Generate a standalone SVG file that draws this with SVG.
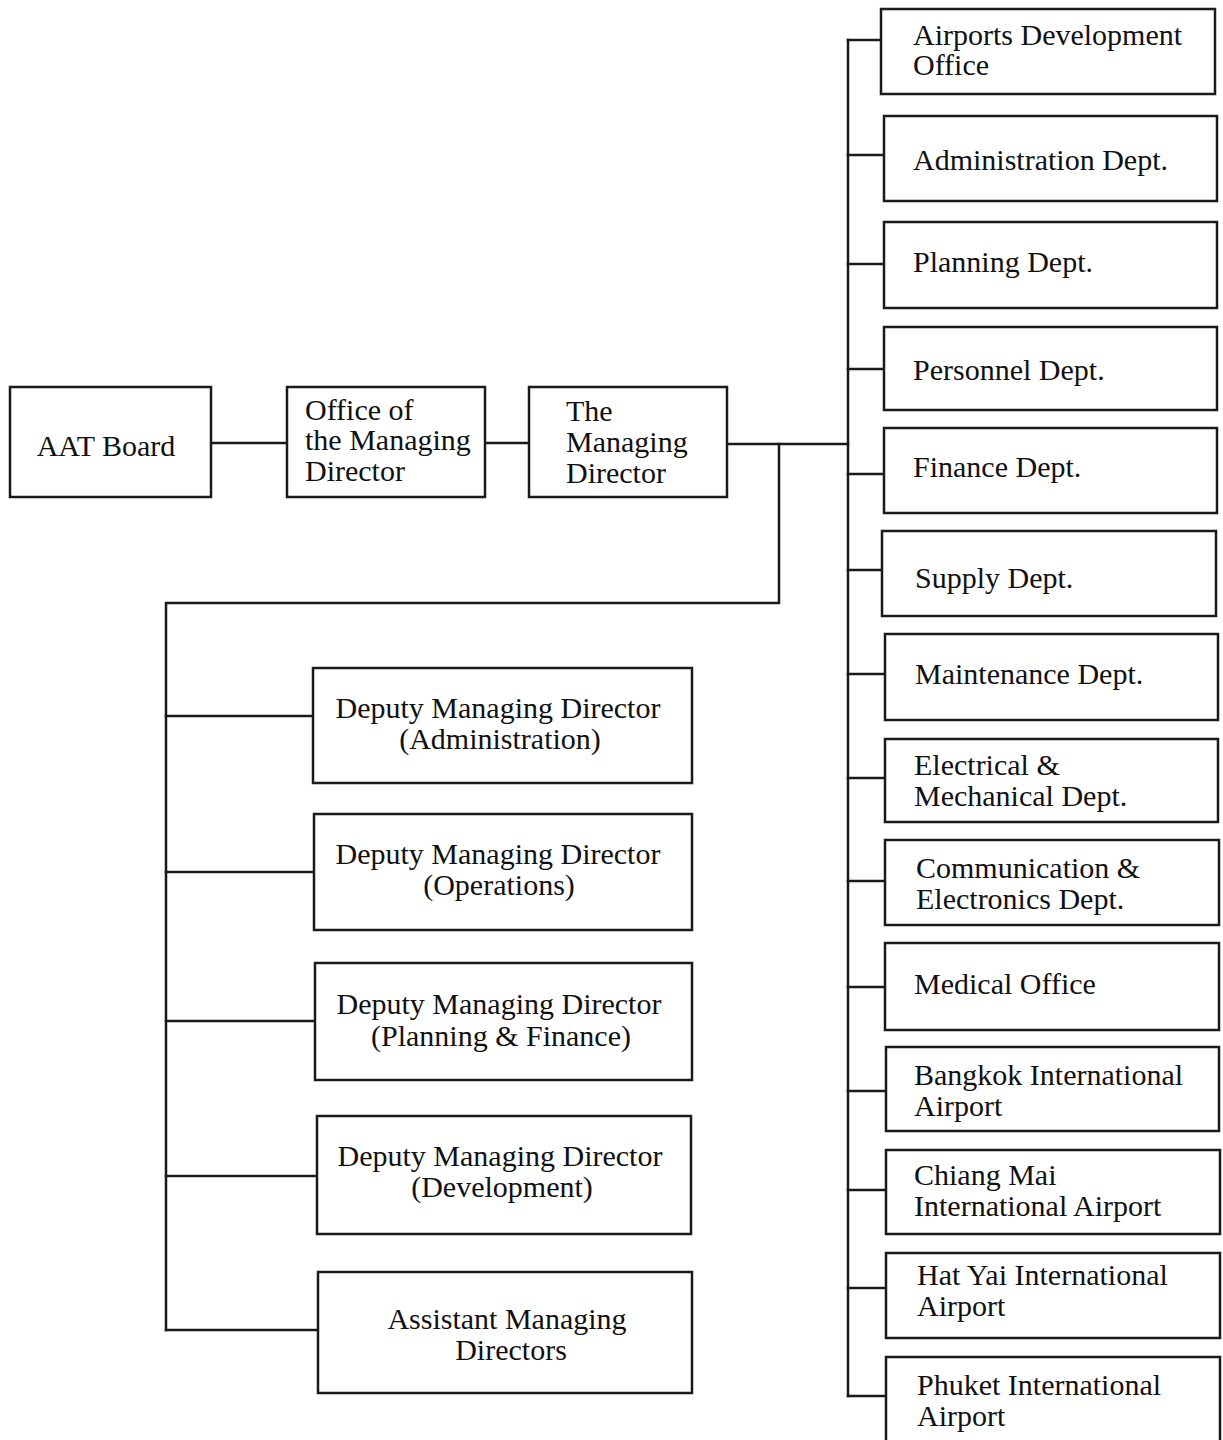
<svg xmlns="http://www.w3.org/2000/svg" width="1223" height="1440" viewBox="0 0 1223 1440">
<style>
.box{fill:#fff;stroke:#1a1a1a;stroke-width:2.5}
.ln{fill:none;stroke:#1a1a1a;stroke-width:2.5;stroke-linecap:square}
text{font-family:"Liberation Serif","Times New Roman",serif;font-size:30px;fill:#111}
.c{text-anchor:middle}
</style>
<rect width="1223" height="1440" fill="#fff"/>
<g id="connectors">
<path class="ln" d="M211 443H287M485 443H529M727 444H848"/>
<path class="ln" d="M779 444V603H166V1330"/>
<path class="ln" d="M166 716H313M166 872H314M166 1021H315M166 1176H317M166 1330H318"/>
<path class="ln" d="M848 40V1396"/>
<path class="ln" d="M848 40H881M848 155H884M848 264H884M848 369H884M848 474H884M848 570H882M848 674H885M848 778H885M848 881H885M848 987H885M848 1091H886M848 1190H886M848 1288H886M848 1396H886"/>
</g>
<g id="aat-board"><rect class="box" x="10" y="387" width="201" height="110"/><text class="c" x="106" y="456">AAT Board</text></g>
<g id="office-md"><rect class="box" x="287" y="387" width="198" height="110"/><text x="305" y="420">Office of</text><text x="305" y="450">the Managing</text><text x="305" y="481">Director</text></g>
<g id="md"><rect class="box" x="529" y="387" width="198" height="110"/><text x="566" y="421">The</text><text x="566" y="452">Managing</text><text x="566" y="483">Director</text></g>

<g id="dmd-admin"><rect class="box" x="313" y="668" width="379" height="115"/><text class="c" x="498" y="718">Deputy Managing Director</text><text class="c" x="500" y="749">(Administration)</text></g>
<g id="dmd-ops"><rect class="box" x="314" y="814" width="378" height="116"/><text class="c" x="498" y="864">Deputy Managing Director</text><text class="c" x="499" y="895">(Operations)</text></g>
<g id="dmd-pf"><rect class="box" x="315" y="963" width="377" height="117"/><text class="c" x="499" y="1014">Deputy Managing Director</text><text class="c" x="501" y="1046">(Planning &amp; Finance)</text></g>
<g id="dmd-dev"><rect class="box" x="317" y="1116" width="374" height="118"/><text class="c" x="500" y="1166">Deputy Managing Director</text><text class="c" x="502" y="1197">(Development)</text></g>
<g id="amd"><rect class="box" x="318" y="1272" width="374" height="121"/><text class="c" x="507" y="1329">Assistant Managing</text><text class="c" x="511" y="1360">Directors</text></g>

<g id="airports-dev"><rect class="box" x="881" y="9" width="334" height="85"/><text x="913" y="45">Airports Development</text><text x="913" y="75">Office</text></g>
<g id="admin-dept"><rect class="box" x="884" y="116" width="333" height="85"/><text x="913" y="170">Administration Dept.</text></g>
<g id="planning-dept"><rect class="box" x="884" y="222" width="333" height="86"/><text x="913" y="272">Planning Dept.</text></g>
<g id="personnel-dept"><rect class="box" x="884" y="327" width="333" height="83"/><text x="913" y="380">Personnel Dept.</text></g>
<g id="finance-dept"><rect class="box" x="884" y="428" width="333" height="85"/><text x="913" y="477">Finance Dept.</text></g>
<g id="supply-dept"><rect class="box" x="882" y="531" width="334" height="85"/><text x="915" y="588">Supply Dept.</text></g>
<g id="maintenance-dept"><rect class="box" x="885" y="634" width="333" height="86"/><text x="915" y="684">Maintenance Dept.</text></g>
<g id="em-dept"><rect class="box" x="885" y="739" width="333" height="83"/><text x="914" y="775">Electrical &amp;</text><text x="914" y="806">Mechanical Dept.</text></g>
<g id="ce-dept"><rect class="box" x="885" y="840" width="334" height="85"/><text x="916" y="878">Communication &amp;</text><text x="916" y="909">Electronics Dept.</text></g>
<g id="medical-office"><rect class="box" x="885" y="943" width="334" height="87"/><text x="914" y="994">Medical Office</text></g>
<g id="bangkok"><rect class="box" x="886" y="1047" width="333" height="84"/><text x="914" y="1085">Bangkok International</text><text x="914" y="1116">Airport</text></g>
<g id="chiangmai"><rect class="box" x="886" y="1150" width="334" height="84"/><text x="914" y="1185">Chiang Mai</text><text x="914" y="1216">International Airport</text></g>
<g id="hatyai"><rect class="box" x="886" y="1253" width="334" height="85"/><text x="917" y="1285">Hat Yai International</text><text x="917" y="1316">Airport</text></g>
<g id="phuket"><rect class="box" x="886" y="1357" width="334" height="100"/><text x="917" y="1395">Phuket International</text><text x="917" y="1426">Airport</text></g>
</svg>
